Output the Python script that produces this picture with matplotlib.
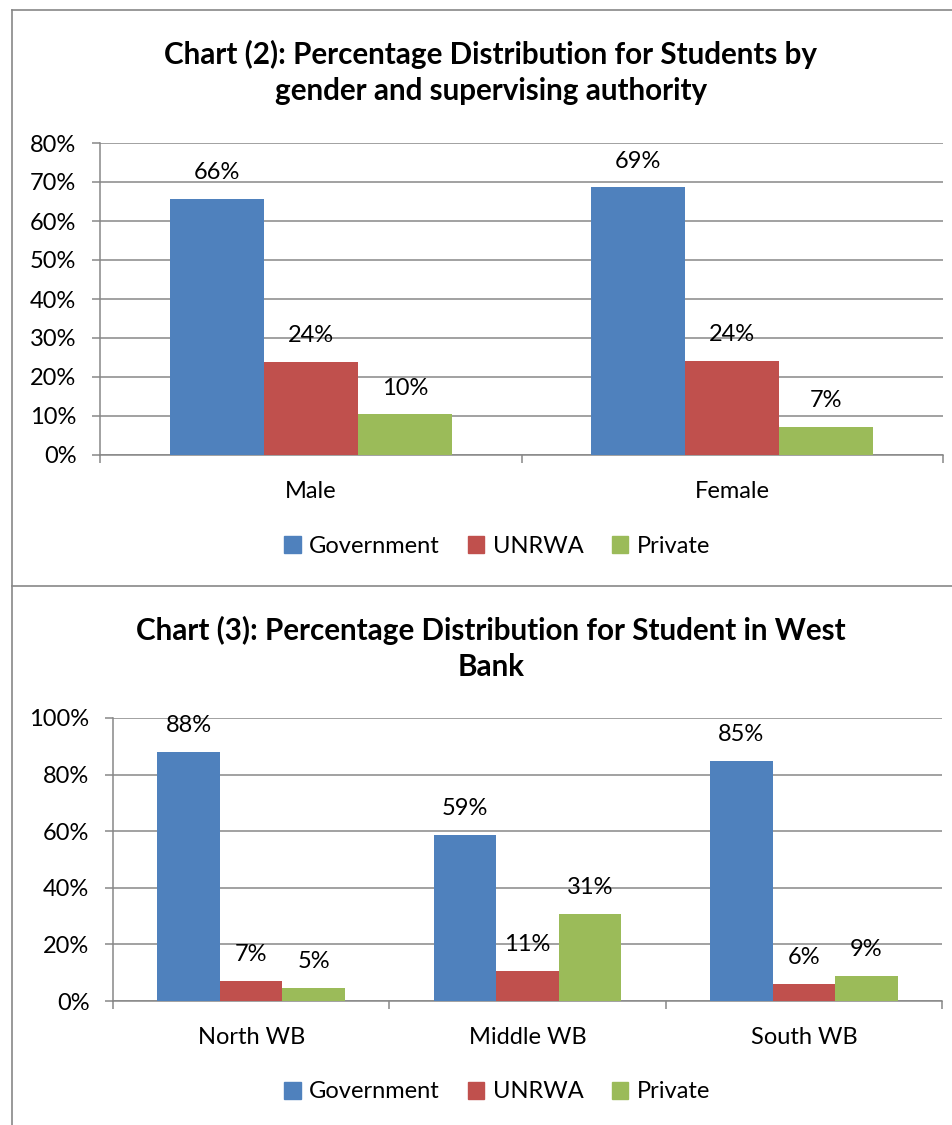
import matplotlib.pyplot as plt
from matplotlib.lines import Line2D
from matplotlib.patches import Patch
import numpy as np

plt.rcParams['font.family'] = ['Lato', 'DejaVu Sans']

# chart 2 data
genders = ['Male', 'Female']
gov_gender = [65.7, 68.6]
unrwa_gender = [23.9, 24.2]
private_gender = [10.4, 7.2]

# chart 3 data
regions = ['North WB', 'Middle WB', 'South WB']
gov_region = [88.0, 58.6, 84.8]
unrwa_region = [7.1, 10.6, 6.1]
private_region = [4.7, 30.8, 8.9]

series_names = ['Government', 'UNRWA', 'Private']
colors = ['#4F81BD', '#C0504D', '#9BBB59']
grid_col = '#878787'
fs = 17

fig = plt.figure(figsize=(9.53, 11.25), dpi=100, facecolor='w')

# frame lines around the two chart boxes
fig.add_artist(Line2D([12/953, 1], [1-10/1125, 1-10/1125], color=grid_col, lw=1.2))
fig.add_artist(Line2D([12/953, 12/953], [0, 1-10/1125], color=grid_col, lw=1.2))
fig.add_artist(Line2D([12/953, 1], [1-586/1125, 1-586/1125], color=grid_col, lw=1.2))


def draw_chart(ax, cats, data, ymax, ystep, bw):
    x = np.arange(len(cats))
    for i, (vals, c) in enumerate(zip(data, colors)):
        bars = ax.bar(x + (i-1)*bw, vals, bw, color=c, zorder=3)
        for b, v in zip(bars, vals):
            ax.annotate(f'{round(v)}%', (b.get_x()+b.get_width()/2, v),
                        xytext=(0, 19), textcoords='offset points',
                        ha='center', va='center', fontsize=fs)
    ax.set_xlim(-0.5, len(cats)-0.5)
    ax.set_ylim(0, ymax)
    ax.set_yticks(np.arange(0, ymax+1, ystep))
    ax.set_yticklabels([f'{int(t)}%' for t in np.arange(0, ymax+1, ystep)])
    ax.yaxis.grid(True, color=grid_col, lw=1.1, zorder=0)
    ax.set_xticks(np.arange(-0.5, len(cats)), minor=False)
    ax.set_xticklabels([])
    ax.set_xticks(x, minor=True)
    ax.set_xticklabels(cats, minor=True)
    ax.tick_params(axis='x', which='minor', length=0, pad=19, labelsize=fs)
    ax.tick_params(axis='x', which='major', length=6, color=grid_col, width=1.1)
    ax.tick_params(axis='y', length=6, color=grid_col, width=1.1, labelsize=fs, pad=11)
    for s in ['top', 'right']:
        ax.spines[s].set_visible(False)
    for s in ['left', 'bottom']:
        ax.spines[s].set_color(grid_col)
        ax.spines[s].set_linewidth(1.1)


ax1 = fig.add_axes([100/953, 1-455/1125, 843/953, 312/1125])
draw_chart(ax1, genders, [gov_gender, unrwa_gender, private_gender], 80, 10, 0.223)

ax2 = fig.add_axes([113/953, 1-1001/1125, 829/953, 283/1125])
draw_chart(ax2, regions, [gov_region, unrwa_region, private_region], 100, 20, 0.226)

fig.text(491/953, 1-72/1125, 'Chart (2): Percentage Distribution for Students by\ngender and supervising authority',
         ha='center', va='center', fontsize=21.3, fontweight='bold', linespacing=1.35)
fig.text(491/953, 1-648/1125, 'Chart (3): Percentage Distribution for Student in West\nBank',
         ha='center', va='center', fontsize=21.3, fontweight='bold', linespacing=1.35)

handles = [Patch(color=c) for c in colors]
for ypos in [546, 1092]:
    fig.legend(handles, series_names, loc='center', bbox_to_anchor=(497/953, 1-ypos/1125),
               ncol=3, frameon=False, fontsize=fs, handlelength=0.7, handleheight=0.7,
               handletextpad=0.35, columnspacing=1.2)

fig.savefig('out.png', dpi=100)
